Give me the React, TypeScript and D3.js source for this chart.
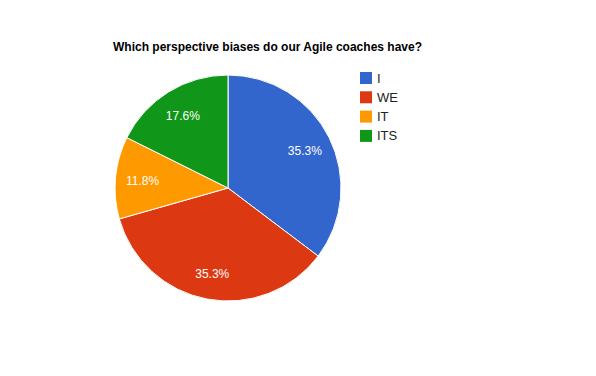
import React from "react";
import * as d3 from "d3";

const categories = ["I", "WE", "IT", "ITS"];
const values = [6, 6, 2, 3];
const colors = ["#3366cc", "#dc3912", "#ff9900", "#109618"];
const title = "Which perspective biases do our Agile coaches have?";

export default function App() {
  const W = 596, H = 376;
  const cx = 228, cy = 188, r = 113;
  const total = d3.sum(values);
  const pie = d3.pie<number>().sort(null).value((d) => d);
  const arcs = pie(values);
  const arc = d3.arc<d3.PieArcDatum<number>>().innerRadius(0).outerRadius(r);
  const labelArc = d3.arc<d3.PieArcDatum<number>>().innerRadius(r * 0.76).outerRadius(r * 0.76);
  return (
    <svg width={W} height={H} style={{ position: "absolute", left: 0, top: 0 }} fontFamily="Liberation Sans, Arial, sans-serif">
      <rect width={W} height={H} fill="#fff" />
      <text x={113} y={51} fontSize={12} fontWeight="bold" fill="#000">{title}</text>
      <g transform={`translate(${cx},${cy})`}>
        {arcs.map((a, i) => (
          <path key={i} d={arc(a) || ""} fill={colors[i]} stroke="#fff" strokeWidth={1} />
        ))}
        {arcs.map((a, i) => {
          const [x, y] = labelArc.centroid(a);
          return (
            <text key={i} x={x} y={y + 1} dy="0.35em" textAnchor="middle" fontSize={12} fill="#fff">
              {((values[i] / total) * 100).toFixed(1) + "%"}
            </text>
          );
        })}
      </g>
      {categories.map((c, i) => (
        <g key={c} transform={`translate(360,${72 + i * 19.3})`}>
          <rect width={12} height={12} fill={colors[i]} />
          <text x={17} y={10.5} fontSize={13} fill="#222">{c}</text>
        </g>
      ))}
    </svg>
  );
}
